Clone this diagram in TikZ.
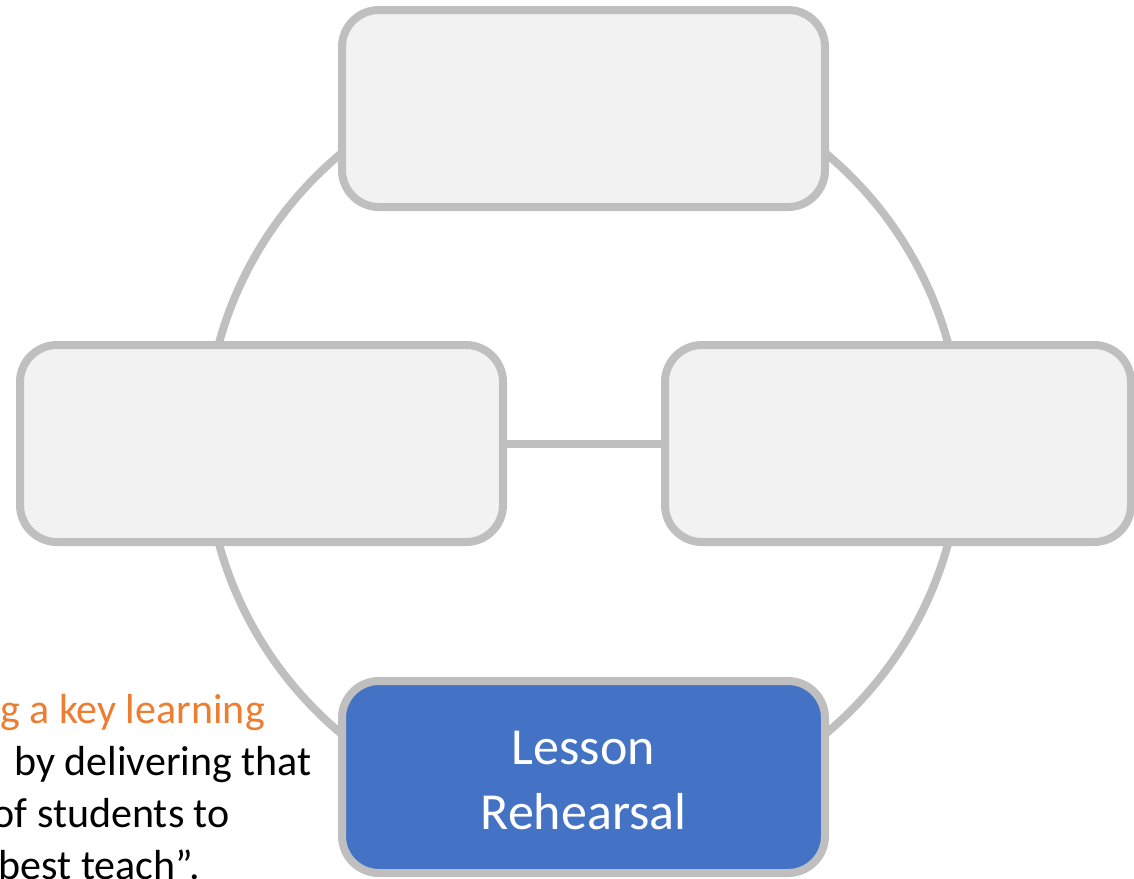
\documentclass[tikz,border=0pt]{standalone}
\usepackage{fontspec}
\setmainfont{Carlito}
\usetikzlibrary{positioning}
\definecolor{ringgray}{HTML}{BFBFBF}
\definecolor{boxfill}{HTML}{F2F2F2}
\definecolor{stepblue}{HTML}{4472C4}
\definecolor{noteorange}{HTML}{ED7D31}
\tikzset{ring/.style={draw=ringgray,line width=8pt},
  stage/.style={ring,fill=boxfill,rounded corners=37pt,inner sep=0pt,minimum width=483pt,minimum height=197pt},
  notes/.style={anchor=base east,inner sep=0pt,font=\fontsize{42}{51}\selectfont}}

\begin{document}
\begin{tikzpicture}[x=1pt,y=-1pt]
\useasboundingbox (0,0) rectangle (1134,878);
\clip (0,0) rectangle (1134,878);
\coordinate (centre) at (583.5,443.5);
\draw[ring] (centre) circle [radius=378pt];
\node[stage] (top) at (583.5,108.5) {};
\node[stage] (left) at (261.5,443.5) {};
\node[stage,minimum width=466pt] (right) at (898,443.5) {};
\draw[ring] (left) -- (right);
\node[stage,fill=stepblue,minimum height=192pt] (rehearsal) at (583.5,777) {};
\node[text=white,align=center,font=\fontsize{52}{65}\selectfont] (rehearsaltext) at ([yshift=-3pt]rehearsal.center) {Lesson\\Rehearsal};
\node[notes,text=noteorange] (note1) at (265,723) {g a key learning};
\node[notes] (note2) at (312,775) {by delivering that};
\node[notes] (note3) at (230,827) {of students to};
\node[notes] (note4) at (200,879) {best teach”.};
\end{tikzpicture}
\end{document}
